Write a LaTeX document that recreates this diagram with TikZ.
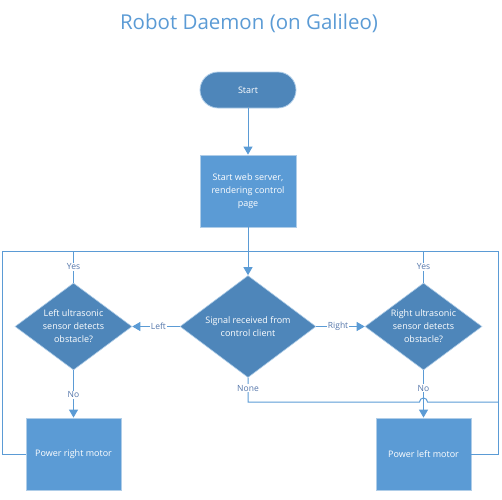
\documentclass[tikz,border=0pt]{standalone}
\usepackage{fontspec}
\setmainfont{Open Sans}
\usetikzlibrary{shapes.geometric,arrows.meta}
\definecolor{lineblue}{RGB}{91,155,213}
\definecolor{darkfill}{RGB}{78,134,186}
\definecolor{boxfill}{RGB}{91,155,213}
\definecolor{edgecol}{RGB}{175,205,232}
\definecolor{labcol}{RGB}{84,118,170}
\tikzset{
  every node/.style={font=\fontsize{9}{13}\selectfont},
  conn/.style={draw=lineblue, line width=1pt},
  arr/.style={conn, -{Triangle[length=8pt,width=9pt]}},
  procbox/.style={rectangle, fill=boxfill, draw=edgecol, line width=0.8pt, minimum width=96pt, minimum height=72pt, inner sep=0pt},
  termbox/.style={rectangle, rounded corners=18pt, fill=darkfill, draw=edgecol, line width=0.8pt, minimum width=96pt, minimum height=36pt, inner sep=0pt},
  decbox/.style={diamond, fill=darkfill, draw=edgecol, line width=0.6pt, inner sep=0pt},
  whitetext/.style={text=white, align=center, inner sep=0pt},
  lab/.style={text=labcol, fill=white, inner sep=1pt, font=\fontsize{8.5}{10}\selectfont},
}
\begin{document}
\begin{tikzpicture}[x=1pt,y=-1pt]
\useasboundingbox (0,0) rectangle (502,499);
\node[text=lineblue, font=\fontsize{20.5}{24}\selectfont] (title) at (249,23) {Robot Daemon (on Galileo)};

\node[termbox] (start) at (248,90) {};
\node[whitetext] at (start) {Start};

\node[procbox] (web) at (248,191) {};
\node[whitetext] at (web) {Start web server,\\rendering control\\page};

\node[decbox, minimum width=136pt, minimum height=102pt] (sig) at (248,326.5) {};
\node[whitetext] at (sig.center) {Signal received from\\control client};

\node[decbox, minimum width=117pt, minimum height=87pt] (ld) at (73.5,326.5) {};
\node[whitetext] at (ld) {Left ultrasonic\\sensor detects\\obstacle?};

\node[decbox, minimum width=117pt, minimum height=87pt] (rd) at (423.5,326.5) {};
\node[whitetext] at (rd) {Right ultrasonic\\sensor detects\\obstacle?};

\node[procbox, minimum width=95pt] (prm) at (73.5,454) {};
\node[whitetext] at (prm) {Power right motor};

\node[procbox, minimum width=95pt] (plm) at (423.5,454) {};
\node[whitetext] at (plm) {Power left motor};

\coordinate (join) at (248,251);
\coordinate (lcorner) at (2.5,251);
\coordinate (rcorner) at (498.5,251);
\coordinate (nonebend) at (248,402);
\coordinate (hopa) at (419.5,402);
\coordinate (rline) at (498.5,402);

% main flow
\draw[arr] (start.south) -- (web.north);
\draw[arr] (web.south) -- (sig.north);

% loops back
\draw[conn] (prm.west) -| (lcorner) -- (join);
\draw[conn] (plm.east) -| (rcorner) -- (join);
\draw[conn] (ld.north) -- (ld.north |- join) node[lab, pos=0.5] {Yes};
\draw[conn] (rd.north) -- (rd.north |- join) node[lab, pos=0.5] {Yes};

% branches
\draw[arr] (sig.west) -- (ld.east) node[lab, pos=0.45] {Left};
\draw[arr] (sig.east) -- (rd.west) node[lab, pos=0.45] {Right};
\draw[arr] (ld.south) -- (prm.north) node[lab, pos=0.52] {No};
\draw[arr] (rd.south) -- (plm.north) node[lab, pos=0.38] {No};

% none
\draw[conn] (sig.south) -- (nonebend) -- (hopa) arc (180:360:4) -- (rline);
\node[lab] at (248,388) {None};
\end{tikzpicture}
\end{document}
